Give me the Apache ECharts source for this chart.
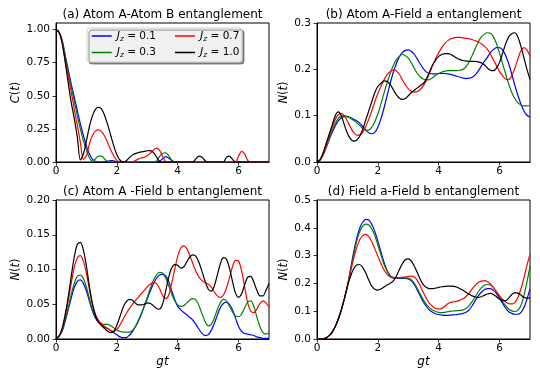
<!DOCTYPE html>
<html><head><meta charset="utf-8">
<script src="https://cdn.jsdelivr.net/npm/echarts@6/dist/echarts.min.js"></script>
<style>html,body{margin:0;padding:0;background:#fff}#c{width:540px;height:380px}</style>
</head><body><div id="c"></div>
<script>
// time grid gt
const T = [0,0.1,0.2,0.3,0.4,0.5,0.6,0.7,0.8,0.9,1.0,1.1,1.2,1.3,1.4,1.5,1.6,1.7,1.8,1.9,2.0,2.1,2.2,2.3,2.4,2.5,2.6,2.7,2.8,2.9,3.0,3.1,3.2,3.3,3.4,3.5,3.6,3.7,3.8,3.9,4.0,4.1,4.2,4.3,4.4,4.5,4.6,4.7,4.8,4.9,5.0,5.1,5.2,5.3,5.4,5.5,5.6,5.7,5.8,5.9,6.0,6.1,6.2,6.3,6.4,6.5,6.6,6.7,6.8,6.9,7.0];
const JZ = ['0.1','0.3','0.7','1.0'];
const COLORS = ['#0000ff','#008000','#ff0000','#000000'];
const TITLES = ['(a) Atom A-Atom B entanglement','(b) Atom A-Field a entanglement','(c) Atom A -Field b entanglement','(d) Field a-Field b entanglement'];
const X_TICKS = [0,2,4,6];
const Y_TICKS_A = [0,0.25,0.5,0.75,1.0];
const Y_TICKS_B = [0,0.1,0.2,0.3];
const Y_TICKS_C = [0,0.05,0.1,0.15,0.2];
const Y_TICKS_D = [0,0.1,0.2,0.3,0.4,0.5];

// (a) C(t)
const A_01 = [1.0,0.98,0.92,0.81,0.70,0.59,0.49,0.39,0.29,0.20,
0.12,0.06,0.02,0.004,0,0,0.002,0.006,0.01,0.008,
0.002,0,0,0,0,0,0,0,0,0,
0,0,0,0,0.005,0.025,0.04,0.03,0.01,0,
0,0,0,0,0,0,0,0,0,0,
0,0,0,0,0,0,0,0,0,0,
0,0,0,0,0,0,0,0,0,0,0];
const A_03 = [1.0,0.98,0.92,0.80,0.68,0.57,0.46,0.35,0.25,0.16,
0.09,0.03,0.005,0.025,0.045,0.045,0.022,0.004,0,0,
0,0,0,0,0,0,0,0,0,0,
0,0,0,0.008,0.04,0.065,0.07,0.05,0.015,0,
0,0,0,0,0,0,0,0,0,0,
0,0,0,0,0,0,0,0,0,0,
0,0,0,0,0,0,0,0,0,0,0];
const A_07 = [1.0,0.98,0.91,0.77,0.65,0.53,0.40,0.28,0.15,0.02,
0.05,0.14,0.20,0.235,0.242,0.23,0.195,0.145,0.09,0.045,
0.012,0,0,0,0,0.002,0.01,0.022,0.03,0.036,
0.047,0.066,0.09,0.105,0.09,0.045,0.003,0,0,0,
0,0,0,0,0,0,0,0,0,0,
0,0,0,0,0,0,0,0,0,0,
0.045,0.08,0.062,0.012,0,0,0,0,0,0,0];
const A_10 = [1.0,0.98,0.90,0.76,0.60,0.45,0.33,0.19,0.016,0.06,
0.16,0.27,0.35,0.40,0.413,0.40,0.35,0.28,0.2,0.12,
0.055,0.015,0.002,0.008,0.03,0.05,0.063,0.07,0.076,0.08,
0.085,0.086,0.072,0.04,0.006,0,0,0,0,0,
0,0,0,0,0,0,0.025,0.045,0.036,0.01,
0,0,0,0,0,0,0.035,0.045,0.02,0,
0,0,0,0,0,0,0,0,0,0,0];

// (b) N(t) atom A - field a
const B_01 = [0,0.004,0.015,0.031,0.048,0.064,0.078,0.089,0.095,0.098,
0.098,0.096,0.093,0.089,0.084,0.077,0.069,0.063,0.061,0.064,
0.075,0.093,0.116,0.142,0.168,0.192,0.211,0.226,0.236,0.241,
0.242,0.239,0.232,0.222,0.211,0.201,0.194,0.191,0.19,0.19,
0.191,0.191,0.191,0.19,0.189,0.187,0.185,0.183,0.181,0.18,
0.181,0.183,0.188,0.196,0.207,0.217,0.226,0.236,0.243,0.247,
0.247,0.242,0.23,0.212,0.19,0.166,0.144,0.125,0.11,0.101,0.097];
const B_03 = [0,0.004,0.015,0.032,0.05,0.068,0.083,0.094,0.099,0.1,
0.098,0.094,0.09,0.085,0.079,0.073,0.069,0.069,0.075,0.087,
0.104,0.125,0.148,0.17,0.19,0.207,0.22,0.228,0.232,0.23,
0.224,0.214,0.202,0.191,0.183,0.179,0.177,0.178,0.182,0.187,
0.191,0.194,0.196,0.197,0.197,0.197,0.197,0.198,0.2,0.206,
0.216,0.23,0.245,0.259,0.27,0.276,0.279,0.278,0.27,0.255,
0.235,0.212,0.19,0.168,0.15,0.137,0.128,0.123,0.121,0.121,0.122];
const B_07 = [0,0.004,0.016,0.035,0.055,0.075,0.092,0.102,0.105,0.1,
0.088,0.075,0.064,0.058,0.058,0.064,0.076,0.092,0.11,0.13,
0.148,0.163,0.177,0.188,0.195,0.199,0.197,0.19,0.178,0.167,
0.158,0.153,0.151,0.152,0.157,0.165,0.177,0.192,0.208,0.223,
0.236,0.247,0.256,0.262,0.266,0.268,0.269,0.269,0.268,0.267,
0.266,0.264,0.262,0.259,0.255,0.25,0.243,0.233,0.22,0.208,
0.195,0.186,0.179,0.178,0.186,0.202,0.222,0.24,0.247,0.242,0.228];
const B_10 = [0,0.005,0.02,0.04,0.06,0.08,0.1,0.108,0.1,0.08,
0.062,0.05,0.045,0.047,0.055,0.07,0.09,0.11,0.13,0.15,
0.163,0.17,0.175,0.174,0.168,0.157,0.146,0.138,0.135,0.137,
0.143,0.15,0.155,0.16,0.165,0.17,0.18,0.195,0.21,0.22,
0.228,0.232,0.234,0.234,0.232,0.228,0.224,0.221,0.219,0.218,
0.217,0.217,0.217,0.216,0.214,0.21,0.203,0.198,0.197,0.203,
0.215,0.235,0.255,0.27,0.277,0.279,0.27,0.25,0.225,0.2,0.178];

// (c) N(t) atom A - field b
const C_01 = [0,0.004,0.011,0.025,0.042,0.059,0.074,0.083,0.085,0.08,
0.069,0.054,0.04,0.03,0.024,0.02,0.017,0.015,0.012,0.009,
0.006,0.003,0.002,0.002,0.005,0.01,0.017,0.026,0.036,0.047,
0.058,0.069,0.079,0.087,0.092,0.093,0.091,0.083,0.07,0.057,
0.047,0.042,0.038,0.035,0.031,0.027,0.021,0.014,0.008,0.005,
0.006,0.012,0.022,0.034,0.045,0.051,0.053,0.05,0.042,0.03,
0.018,0.011,0.008,0.007,0.006,0.005,0.003,0.002,0.001,0.001,0.001];
const C_03 = [0,0.004,0.012,0.027,0.045,0.064,0.08,0.09,0.092,0.087,
0.075,0.058,0.042,0.031,0.025,0.022,0.021,0.021,0.019,0.016,
0.013,0.011,0.01,0.01,0.01,0.012,0.017,0.025,0.035,0.047,
0.06,0.073,0.084,0.092,0.096,0.095,0.088,0.077,0.065,0.055,
0.049,0.047,0.048,0.052,0.056,0.058,0.056,0.048,0.036,0.025,
0.019,0.021,0.03,0.042,0.052,0.057,0.055,0.047,0.039,0.033,
0.032,0.036,0.045,0.053,0.055,0.047,0.032,0.018,0.009,0.007,0.009];
const C_07 = [0,0.004,0.014,0.032,0.055,0.08,0.103,0.117,0.12,0.112,
0.094,0.071,0.05,0.035,0.027,0.022,0.018,0.015,0.012,0.011,
0.014,0.02,0.028,0.036,0.043,0.049,0.055,0.06,0.065,0.07,
0.075,0.079,0.081,0.08,0.073,0.063,0.058,0.063,0.08,0.1,
0.119,0.131,0.134,0.13,0.12,0.108,0.097,0.089,0.084,0.081,
0.079,0.075,0.068,0.062,0.06,0.063,0.073,0.088,0.104,0.113,
0.112,0.098,0.075,0.052,0.04,0.038,0.043,0.051,0.055,0.052,0.046];
const C_10 = [0,0.004,0.015,0.035,0.06,0.09,0.118,0.136,0.139,0.128,
0.105,0.075,0.05,0.033,0.024,0.019,0.015,0.011,0.009,0.011,
0.02,0.032,0.045,0.053,0.057,0.056,0.052,0.049,0.049,0.05,
0.052,0.051,0.048,0.044,0.043,0.05,0.068,0.088,0.102,0.107,
0.106,0.102,0.104,0.111,0.118,0.121,0.119,0.11,0.097,0.083,
0.072,0.069,0.076,0.092,0.108,0.117,0.115,0.102,0.083,0.066,
0.06,0.065,0.078,0.089,0.09,0.082,0.07,0.062,0.062,0.07,0.08];

// (d) N(t) field a - field b
const D_01 = [0,0,0.001,0.004,0.012,0.025,0.045,0.072,0.105,0.145,
0.19,0.25,0.31,0.36,0.398,0.42,0.43,0.428,0.413,0.387,
0.352,0.314,0.277,0.247,0.228,0.22,0.218,0.218,0.218,0.218,
0.216,0.209,0.195,0.175,0.153,0.132,0.116,0.104,0.096,0.091,
0.088,0.086,0.085,0.085,0.086,0.087,0.088,0.09,0.092,0.096,
0.105,0.12,0.138,0.155,0.168,0.177,0.181,0.181,0.175,0.163,
0.146,0.128,0.111,0.098,0.092,0.089,0.089,0.095,0.113,0.143,0.18];
const D_03 = [0,0,0.001,0.004,0.012,0.025,0.045,0.072,0.105,0.145,
0.19,0.245,0.3,0.35,0.385,0.405,0.413,0.41,0.396,0.372,
0.338,0.303,0.27,0.245,0.229,0.222,0.22,0.22,0.22,0.22,
0.219,0.213,0.2,0.181,0.16,0.14,0.124,0.112,0.104,0.099,
0.096,0.095,0.096,0.098,0.1,0.101,0.102,0.103,0.105,0.11,
0.12,0.135,0.152,0.17,0.184,0.193,0.196,0.194,0.185,0.17,
0.153,0.135,0.12,0.108,0.101,0.099,0.104,0.12,0.155,0.205,0.262];
const D_07 = [0,0,0.001,0.004,0.012,0.025,0.045,0.072,0.105,0.145,
0.19,0.24,0.287,0.327,0.356,0.372,0.376,0.368,0.35,0.325,
0.298,0.272,0.249,0.233,0.224,0.22,0.22,0.221,0.222,0.223,
0.225,0.226,0.223,0.21,0.19,0.166,0.145,0.128,0.117,0.11,
0.108,0.11,0.118,0.127,0.132,0.134,0.136,0.14,0.145,0.153,
0.165,0.18,0.193,0.203,0.208,0.21,0.206,0.198,0.185,0.17,
0.155,0.142,0.133,0.127,0.126,0.131,0.148,0.18,0.22,0.265,0.305];
const D_10 = [0,0,0.001,0.004,0.012,0.025,0.045,0.072,0.105,0.145,
0.19,0.225,0.252,0.266,0.268,0.258,0.238,0.212,0.19,0.179,
0.176,0.18,0.187,0.194,0.2,0.208,0.225,0.248,0.27,0.285,
0.288,0.28,0.262,0.238,0.213,0.195,0.185,0.181,0.181,0.183,
0.186,0.188,0.189,0.19,0.19,0.189,0.186,0.181,0.175,0.168,
0.161,0.155,0.151,0.15,0.152,0.157,0.162,0.164,0.16,0.152,
0.143,0.138,0.138,0.147,0.16,0.167,0.165,0.158,0.15,0.147,0.148];

const PANELS = [
  {series:[A_01,A_03,A_07,A_10], max:1.05, ticks:Y_TICKS_A, dec:2, yname:'{i|C}({i|t})', gap:34, xname:''},
  {series:[B_01,B_03,B_07,B_10], max:0.3, ticks:Y_TICKS_B, dec:1, yname:'{i|N}({i|t})', gap:26, xname:''},
  {series:[C_01,C_03,C_07,C_10], max:0.2, ticks:Y_TICKS_C, dec:2, yname:'{i|N}({i|t})', gap:34, xname:'gt'},
  {series:[D_01,D_03,D_07,D_10], max:0.5, ticks:Y_TICKS_D, dec:1, yname:'{i|N}({i|t})', gap:27, xname:'gt'}
];
const GRIDS = [
  {left:56, top:23, width:213, height:139},
  {left:317, top:23, width:213, height:139},
  {left:56, top:200, width:213, height:139},
  {left:317, top:200, width:213, height:139}
];
const FONT = 'DejaVu Sans';

const chart = echarts.init(document.getElementById('c'), null, {renderer:'canvas'});
const grid = GRIDS.map(g => Object.assign({show:true, borderColor:'#000', borderWidth:1, backgroundColor:'transparent'}, g));
const xAxis = [], yAxis = [], series = [];
PANELS.forEach((p, k) => {
  xAxis.push({
    type:'value', gridIndex:k, min:0, max:7, interval:2,
    name:p.xname, nameLocation:'middle', nameGap:17,
    nameTextStyle:{fontFamily:FONT, fontSize:12, fontStyle:'italic', color:'#000'},
    axisLine:{show:true, lineStyle:{color:'#000', width:1}},
    axisTick:{show:true, inside:false, length:3.5, lineStyle:{color:'#000', width:0.8}, customValues:X_TICKS},
    axisLabel:{fontFamily:FONT, fontSize:10.5, color:'#000', margin:4, customValues:X_TICKS, formatter:v=>String(v)},
    splitLine:{show:false}
  });
  yAxis.push({
    type:'value', gridIndex:k, min:0, max:p.max,
    name:p.yname, nameLocation:'middle', nameGap:p.gap, nameRotate:90,
    nameTextStyle:{fontFamily:FONT, fontSize:11.5, color:'#000', rich:{i:{fontFamily:FONT, fontSize:11.5, fontStyle:'italic', color:'#000'}}},
    axisLine:{show:true, lineStyle:{color:'#000', width:1}},
    axisTick:{show:true, inside:false, length:3.5, lineStyle:{color:'#000', width:0.8}, customValues:p.ticks},
    axisLabel:{fontFamily:FONT, fontSize:10.5, color:'#000', margin:6, customValues:p.ticks, formatter:v=>Number(v).toFixed(p.dec)},
    splitLine:{show:false}
  });
  p.series.forEach((arr, j) => {
    series.push({
      type:'line', name:JZ[j], xAxisIndex:k, yAxisIndex:k,
      data:arr.map((v,i)=>[T[i], v]),
      showSymbol:false, symbol:'none', smooth:0.3, clip:true,
      lineStyle:{color:COLORS[j], width:1.2}, itemStyle:{color:COLORS[j]},
      z: 2 + j
    });
  });
});

const legendText = {
  fontFamily:FONT, fontSize:10.5, color:'#000', lineHeight:13,
  rich:{
    j:{fontFamily:FONT, fontSize:11, fontStyle:'italic', color:'#000'},
    s:{fontFamily:FONT, fontSize:7.5, fontStyle:'italic', color:'#000', padding:[6,0,0,0]},
    e:{fontFamily:FONT, fontSize:10.5, color:'#000'}
  }
};
const legendBase = {
  orient:'vertical', top:29.5, padding:0, itemGap:3, itemWidth:20, itemHeight:1.5, itemTextGap:5,
  icon:'rect', z:10, textStyle:legendText, selectedMode:false,
  formatter:n => '{j|J}{s|z}{e| = ' + n + '}'
};

const graphic = [
  {type:'rect', z:8, shape:{x:87, y:28, width:155, height:34, r:3},
   style:{fill:'rgba(255,255,255,0.85)', stroke:'#cccccc', lineWidth:1, shadowColor:'rgba(0,0,0,0.45)', shadowOffsetX:2, shadowOffsetY:2, shadowBlur:0}}
];
TITLES.forEach((t, k) => {
  const g = GRIDS[k];
  graphic.push({type:'text', z:10, style:{text:t, x:g.left + g.width/2, y:g.top - 8, textAlign:'center', textVerticalAlign:'middle', font:'12px "DejaVu Sans"', fill:'#000'}});
});

chart.setOption({
  animation:false,
  backgroundColor:'#fff',
  grid, xAxis, yAxis, series,
  legend:[
    Object.assign({}, legendBase, {left:91.7, data:['0.1','0.3']}),
    Object.assign({}, legendBase, {left:175, data:['0.7','1.0']})
  ],
  graphic
});
</script></body></html>
